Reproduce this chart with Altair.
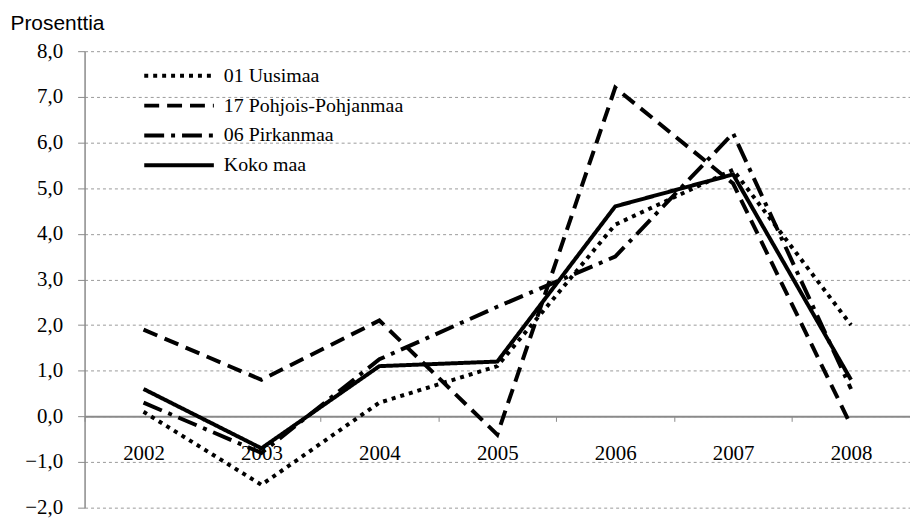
import altair as alt
import pandas as pd

years = ["2002", "2003", "2004", "2005", "2006", "2007", "2008"]
series_names = ["01 Uusimaa", "17 Pohjois-Pohjanmaa", "06 Pirkanmaa", "Koko maa"]
uusimaa = [0.1, -1.5, 0.3, 1.1, 4.2, 5.4, 2.0]
pohjois_pohjanmaa = [1.9, 0.8, 2.1, -0.4, 7.2, 5.1, -0.2]
pirkanmaa = [0.3, -0.8, 1.25, 2.4, 3.5, 6.2, 0.6]
koko_maa = [0.6, -0.7, 1.1, 1.2, 4.6, 5.3, 0.8]
y_ticks = [-2, -1, 0, 1, 2, 3, 4, 5, 6, 7, 8]

rows = []
for name, vals in zip(series_names, [uusimaa, pohjois_pohjanmaa, pirkanmaa, koko_maa]):
    for yr, v in zip(years, vals):
        rows.append({"year": yr, "value": v, "series": name})
df = pd.DataFrame(rows)

dash_range = [[4, 5], [15, 8], [20, 7, 4, 7], [1, 0]]

SERIF = "Liberation Serif"
PLOT_H = 459

chart = alt.Chart(df).mark_line(color="black", strokeWidth=4, strokeCap="butt").encode(
    x=alt.X(
        "year:N",
        sort=years,
        scale=alt.Scale(type="band", paddingInner=0, paddingOuter=0),
        axis=alt.Axis(
            title=None,
            orient="bottom",
            offset=-PLOT_H * 2 / 10,
            grid=False,
            labelAngle=0,
            labelFont=SERIF,
            labelFontSize=21,
            labelColor="black",
            labelPadding=21,
            tickBand="extent",
            tickSize=5,
            tickColor="#8a8a8a",
            domainColor="#8a8a8a",
            domainWidth=2,
        ),
    ),
    y=alt.Y(
        "value:Q",
        scale=alt.Scale(domain=[-2, 8], nice=False, zero=False),
        axis=alt.Axis(
            title="Prosenttia",
            titleAngle=0,
            titleX=-75,
            titleY=-22,
            titleAlign="left",
            titleBaseline="alphabetic",
            titleFont="Liberation Sans",
            titleFontSize=21,
            titleFontWeight="normal",
            titleColor="black",
            values=y_ticks,
            labelExpr="replace(format(datum.value, '.1f'), '.', ',')",
            labelFont=SERIF,
            labelFontSize=21,
            labelColor="black",
            labelPadding=15,
            tickSize=7,
            tickColor="#8a8a8a",
            domainColor="#8a8a8a",
            domainWidth=1.5,
            grid=True,
            gridDash=[3, 3],
            gridColor="#9a9a9a",
            gridWidth=1,
        ),
    ),
    strokeDash=alt.StrokeDash(
        "series:N",
        sort=series_names,
        scale=alt.Scale(domain=series_names, range=dash_range),
        legend=alt.Legend(
            title=None,
            orient="none",
            legendX=58,
            legendY=10,
            direction="vertical",
            symbolType="stroke",
            symbolSize=4900,
            symbolStrokeWidth=4,
            symbolStrokeColor="black",
            labelFont=SERIF,
            labelFontSize=20,
            labelColor="black",
            labelOffset=8,
            labelLimit=0,
            clipHeight=29.5,
            rowPadding=0,
            padding=0,
        ),
    ),
).properties(
    width=830,
    height=PLOT_H,
    autosize=alt.AutoSizeParams(type="none"),
    padding={"left": 77, "top": 42, "right": 0, "bottom": 12},
    background="white",
).configure_view(stroke=None)

chart.save("out.html", embed_options={"renderer": "svg", "actions": False})
